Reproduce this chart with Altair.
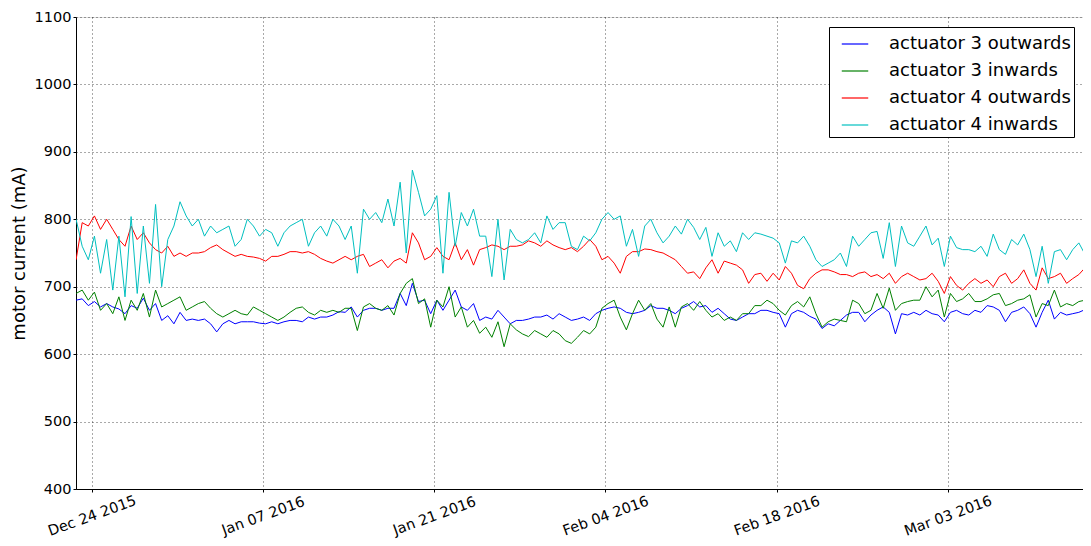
import altair as alt
import pandas as pd

# 12-hourly readings (mA), starting 2015-12-22 17:00
start = "2015-12-22 17:00"
step_hours = 12

act3_out = [
    680, 682, 672, 678, 670, 675, 670, 667, 660, 672, 668, 683, 665, 675, 650, 657, 645, 662, 650, 652,
    650, 652, 645, 633, 645, 650, 645, 648, 648, 648, 646, 645, 648, 645, 648, 650, 650, 648, 655, 652,
    655, 655, 658, 663,
    662, 670, 655, 665, 668, 668, 665, 668, 668, 690, 672, 705, 678, 680, 660, 680, 665, 680, 695, 670,
    665, 675, 650, 655, 652, 665, 655, 645, 650, 650, 652, 655, 655, 658, 652, 660, 655, 650, 652, 655,
    650, 660, 665,
    668, 670, 668, 662, 660, 662, 665, 672, 668, 668, 665, 660, 668, 672, 678, 670, 672, 662, 668, 660,
    652, 650, 655, 660, 660, 665, 665, 662, 660, 640, 660, 665, 662, 656, 652, 638, 645, 642, 650, 658,
    662,
    662, 648, 658, 665, 670, 662, 630, 660, 658, 662, 658, 665, 660, 658, 648, 662, 665, 660, 658, 665,
    662, 672, 670, 665, 648, 662, 665, 670, 660, 640, 662, 680, 652, 662, 658, 660, 662, 666,
]

act3_in = [
    690, 695, 680, 692, 665, 675, 660, 685, 650, 680, 665, 690, 655, 695, 670, 675, 680, 685, 665, 670,
    675, 678, 668, 660, 655, 660, 665, 660, 658, 670, 665, 660, 655, 650, 655, 662, 668, 670, 662, 658,
    665, 662, 665, 662,
    668, 668, 635, 670, 675, 668, 665, 672, 658, 690, 705, 712, 675, 682, 640, 680, 670, 700, 655, 670,
    640, 650, 631, 640, 625, 648, 611, 645, 636, 630, 626, 635, 630, 625, 635, 630, 620, 616, 625, 635,
    630, 640, 668,
    675, 680, 655, 636, 660, 680, 665, 675, 652, 640, 670, 640, 670, 675, 665, 678, 665, 655, 660, 650,
    655, 650, 660, 660, 672, 672, 680, 675, 665, 658, 672, 678, 670, 685, 660, 640, 648, 652, 650, 648,
    680,
    675, 660, 665, 690, 668, 698, 665, 675, 678, 680, 680, 700, 685, 695, 655, 690, 678, 682, 690, 678,
    678, 682, 688, 690, 672, 675, 680, 682, 688, 655, 675, 672, 695, 670, 675, 672, 678, 680,
]

act4_out = [
    740, 795, 790, 805, 785, 800, 785, 770, 760, 790, 770, 780, 765, 755, 750, 760, 745, 750, 745, 750,
    750, 752, 758, 762, 755, 750, 745, 748, 745, 744, 742, 738, 745, 745, 748, 752, 752, 750, 752, 748,
    742, 738, 735, 740,
    745, 740, 745, 748, 730, 735, 740, 728, 738, 742, 735, 780, 765, 740, 745, 758, 745, 740, 765, 740,
    755, 732, 755, 758, 762, 760, 755, 760, 760, 762, 768, 765, 760, 768, 762, 758, 755, 758, 752, 760,
    770, 760, 740,
    745, 735, 720, 745, 752, 752, 756, 755, 752, 750, 745, 740, 730, 720, 722, 712, 728, 740, 720, 738,
    735, 732, 725, 705, 718, 720, 708, 720, 710, 730, 720, 702, 697, 712, 720, 725, 725, 722, 718, 718,
    715,
    720, 722, 715, 718, 712, 720, 705, 715, 720, 715, 710, 712, 720, 708, 690, 715, 702, 695, 705, 712,
    705, 710, 700, 715, 720, 705, 712, 725, 705, 695, 728, 712, 715, 720, 705, 712, 718, 728,
]

act4_in = [
    800, 760, 740, 775, 720, 770, 695, 775, 685, 804, 690, 790, 705, 822, 700, 770, 790, 826, 805, 790,
    800, 775, 790, 780, 785, 790, 760, 770, 800, 790, 775, 785, 780, 760, 780, 790, 795, 800, 760, 780,
    790, 775, 800, 790,
    770, 790, 720, 815, 800, 810, 795, 830, 790, 855, 750, 873, 840, 805, 815, 835, 720, 840, 760, 810,
    790, 815, 775, 775, 715, 800, 710, 785, 770, 765, 770, 780, 765, 805, 785, 795, 795, 760, 755, 775,
    768, 780, 800,
    810, 800, 805, 760, 785, 745, 790, 800, 780, 765, 775, 790, 778, 800, 788, 770, 788, 745, 780, 760,
    768, 752, 780, 770, 780, 778, 775, 772, 765, 735, 768, 765, 775, 760, 740, 730, 735, 740, 750, 730,
    775,
    760, 770, 780, 782, 742, 795, 730, 790, 765, 760, 775, 790, 762, 772, 730, 775, 758, 755, 755, 752,
    760, 745, 778, 755, 748, 770, 762, 778, 755, 715, 760, 705, 752, 755, 740, 755, 765, 748,
]

series_names = ["actuator 3 outwards", "actuator 3 inwards", "actuator 4 outwards", "actuator 4 inwards"]
series_colors = ["#0000ff", "#008000", "#ff0000", "#00bfbf"]
series_values = [act3_out, act3_in, act4_out, act4_in]

x_ticks = ["2015-12-24", "2016-01-07", "2016-01-21", "2016-02-04", "2016-02-18", "2016-03-03"]
y_ticks = [400, 500, 600, 700, 800, 900, 1000, 1100]

frames = []
for name, vals in zip(series_names, series_values):
    times = pd.date_range(start=start, periods=len(vals), freq=f"{step_hours}h")
    frames.append(pd.DataFrame({"time": times.strftime("%Y-%m-%dT%H:%M:%S"), "value": vals, "series": name}))
df = pd.concat(frames, ignore_index=True)

x_tick_values = [alt.DateTime(year=int(d[:4]), month=int(d[5:7]), date=int(d[8:10])) for d in x_ticks]

FONT = "DejaVu Sans"

chart = alt.Chart(df).mark_line(strokeWidth=1, clip=True).encode(
    x=alt.X(
        "time:T",
        scale=alt.Scale(domain=[
            alt.DateTime(year=2015, month=12, date=22, hours=16, minutes=50),
            alt.DateTime(year=2016, month=3, date=14, hours=1, minutes=10),
        ]),
        axis=alt.Axis(
            values=x_tick_values, format="%b %d %Y", title=None,
            labelAngle=-20, labelAlign="center", labelBaseline="middle",
            labelPadding=24, tickSize=3, labelFontSize=14.5, labelFont=FONT,
            labelColor="black", tickColor="black", domainColor="black",
            grid=True, gridColor="#000000", gridDash=[1, 3], gridOpacity=0.85, gridWidth=0.8,
            labelOverlap=False,
        ),
    ),
    y=alt.Y(
        "value:Q",
        scale=alt.Scale(domain=[400, 1100], nice=False, zero=False),
        axis=alt.Axis(
            values=y_ticks, format="d", title="motor current (mA)", titleFont=FONT, titleFontSize=18,
            titleFontWeight="normal", titleColor="black", titleX=-57, titleY=236,
            titleAngle=-90, titleAlign="center", titleBaseline="middle",
            labelFontSize=14.5, labelFont=FONT, labelColor="black", labelPadding=2,
            tickSize=3, tickColor="black", domainColor="black",
            grid=True, gridColor="#000000", gridDash=[1, 3], gridOpacity=0.85, gridWidth=0.8,
        ),
    ),
    color=alt.Color(
        "series:N",
        scale=alt.Scale(domain=series_names, range=series_colors),
        legend=alt.Legend(
            title=None, orient="none", legendX=753, legendY=10,
            symbolType="stroke", symbolSize=700, symbolStrokeWidth=1.2, symbolOffset=9,
            labelFont=FONT, labelFontSize=18, labelColor="black", labelOffset=20,
            padding=3, rowPadding=4, strokeColor="black", fillColor="white",
            labelLimit=400,
        ),
    ),
).properties(
    width=1007,
    height=472,
    autosize=alt.AutoSizeParams(type="none"),
    padding={"left": 68, "top": 9, "right": 0, "bottom": 50},
).configure_view(
    stroke="black", strokeWidth=1.2,
).configure(background="white")

chart.save("out.html", embed_options={"renderer": "svg", "actions": False})
